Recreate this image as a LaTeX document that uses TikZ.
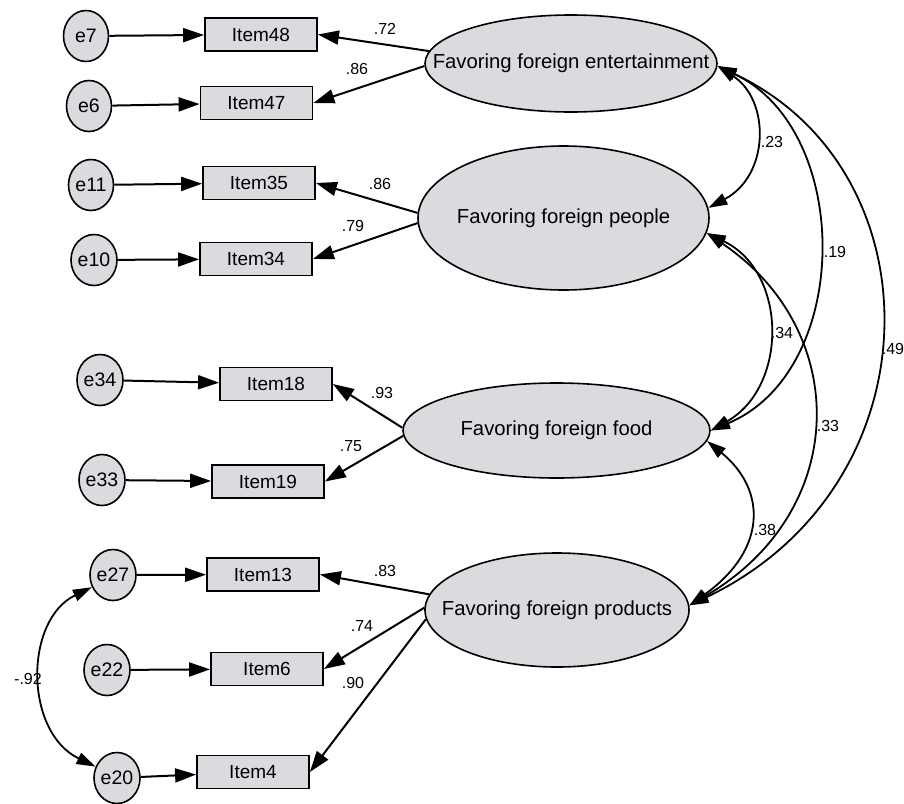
\documentclass[tikz,border=0pt]{standalone}
\usepackage{fontspec}
\setmainfont{Liberation Sans}
\usetikzlibrary{shapes.geometric,arrows.meta}
\definecolor{nodefill}{RGB}{218,219,222}
\begin{document}
\begin{tikzpicture}[x=1pt,y=-1pt,
  err/.style={ellipse, draw, line width=1.6pt, fill=nodefill, minimum width=45pt, minimum height=51pt, inner sep=0pt, font=\fontsize{19.5}{22}\selectfont},
  itembox/.style={rectangle, draw, line width=1.8pt, fill=nodefill, minimum width=112pt, minimum height=33pt, inner sep=0pt, font=\fontsize{19}{22}\selectfont},
  latent/.style={ellipse, draw, line width=1.6pt, fill=nodefill, inner sep=0pt, font=\fontsize{20.3}{23}\selectfont},
  lbl/.style={inner sep=0pt, font=\fontsize{16}{18}\selectfont},
  load/.style={line width=2pt, -{Triangle[length=21pt,width=14pt]}},
  cov/.style={line width=1.8pt, {Triangle[length=19pt,width=12pt]}-{Triangle[length=19pt,width=12pt]}}
]
\useasboundingbox (0,0) rectangle (904,803);

% error terms
\node[err] (e7) at (86,36) {e7};
\node[err] (e6) at (89,106) {e6};
\node[err] (e11) at (91,185) {e11};
\node[err] (e10) at (94,260) {e10};
\node[err] (e34) at (100,380) {e34};
\node[err] (e33) at (102,480) {e33};
\node[err] (e27) at (113,575) {e27};
\node[err] (e22) at (107,670) {e22};
\node[err] (e20) at (117,778) {e20};

% items
\node[itembox] (i48) at (261,34.5) {Item48};
\node[itembox] (i47) at (256.5,103) {Item47};
\node[itembox] (i35) at (259,183) {Item35};
\node[itembox] (i34) at (256,259) {Item34};
\node[itembox] (i18) at (276,384) {Item18};
\node[itembox] (i19) at (268,481.5) {Item19};
\node[itembox] (i13) at (263,574.5) {Item13};
\node[itembox] (i6) at (267,669) {Item6};
\node[itembox] (i4) at (253,772) {Item4};

% latent factors
\node[latent, minimum width=292pt, minimum height=97pt] (ent) at (571,63.5) {\makebox[0pt]{Favoring foreign entertainment}};
\node[latent, minimum width=291pt, minimum height=144pt] (ppl) at (563.5,218) {\makebox[0pt]{Favoring foreign people}};
\node[latent, minimum width=307pt, minimum height=95pt] (food) at (556.5,430.5) {\makebox[0pt]{Favoring foreign food}};
\node[latent, minimum width=264pt, minimum height=114pt] (prod) at (557,610) {\makebox[0pt]{Favoring foreign products}};

% error -> item
\foreach \e/\i in {e7/i48,e6/i47,e11/i35,e10/i34,e34/i18,e33/i19,e27/i13,e22/i6,e20/i4}
  \draw[load] (\e) -- (\i);

% loadings
\draw[load] (ent.175.4) -- (i48.east);
\draw[load] (ent.181) -- (i47.east);
\draw[load] (ppl.178) -- (i35.east);
\draw[load] (ppl.182) -- (i34.east);
\draw[load] (food.179) -- (i18.east);
\draw[load] (food.182.4) -- (i19.east);
\draw[load] (prod.173.3) -- (i13.east);
\draw[load] (prod.179) -- (i6.east);
\draw[load] (prod.184.4) -- (i4.east);

% covariances
\draw[cov] (ent.-1) .. controls (770,100) and (770,175) .. (ppl.4.4);
\draw[cov] (ent.-1) .. controls (853,130) and (853,371) .. (food.0);
\draw[cov] (ent.-1) .. controls (939,170) and (939,486) .. (prod.2);
\draw[cov] (ppl.-6) .. controls (788,272) and (788,387) .. (food.0);
\draw[cov] (ppl.-6) .. controls (851,330) and (851,511) .. (prod.2);
\draw[cov] (food.-4) .. controls (767,490) and (767,550) .. (prod.2);
\draw[cov] (e27.210) .. controls (24,620) and (24,732) .. (e20.152);

% coefficient labels
\node[lbl] (l72) at (385,29) {.72};
\node[lbl] (l86a) at (357,69) {.86};
\node[lbl] (l86b) at (380,184) {.86};
\node[lbl] (l79) at (353,226) {.79};
\node[lbl] (l93) at (382,393) {.93};
\node[lbl] (l75) at (351,446) {.75};
\node[lbl] (l83) at (385,571) {.83};
\node[lbl] (l74) at (362,626) {.74};
\node[lbl] (l90) at (353,683) {.90};
\node[lbl] (l92) at (28,679) {-.92};
\node[lbl] (l23) at (772,142) {.23};
\node[lbl] (l19) at (835,252) {.19};
\node[lbl] (l49) at (893,349) {.49};
\node[lbl] (l34) at (782,333) {.34};
\node[lbl] (l33) at (828,426) {.33};
\node[lbl] (l38) at (765,530) {.38};
\end{tikzpicture}
\end{document}
